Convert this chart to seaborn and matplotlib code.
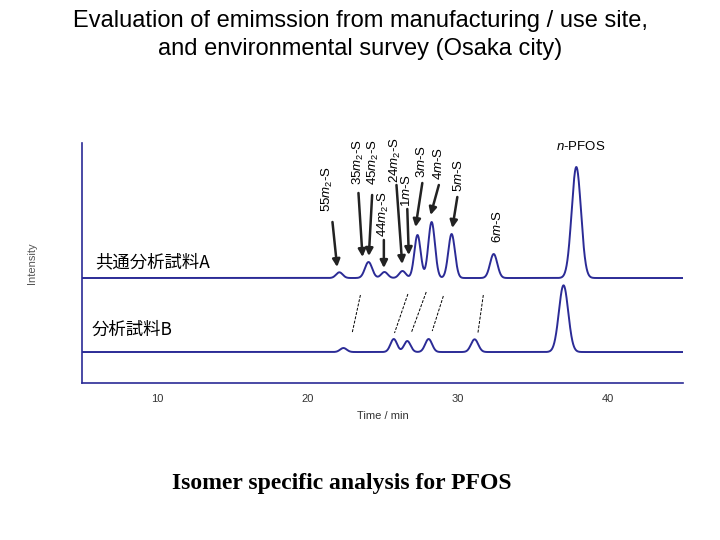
import numpy as np
import pandas as pd
import matplotlib
matplotlib.use("Agg")
import matplotlib.pyplot as plt
import seaborn as sns

# peak tables (time / min, height, sigma)
peaks_a_time = [22.13, 24.07, 25.13, 26.33, 27.33, 28.27, 29.60, 32.40, 37.90]
peaks_a_height = [5.7, 16, 6, 7, 43, 56, 44, 24, 111]
peaks_a_sigma = [0.22, 0.24, 0.22, 0.22, 0.21, 0.22, 0.22, 0.24, 0.31]
baseline_a = 105

peaks_b_time = [22.40, 25.75, 26.65, 28.07, 31.13, 37.05]
peaks_b_height = [4, 13, 11, 13, 12.7, 66.7]
peaks_b_sigma = [0.22, 0.22, 0.22, 0.23, 0.24, 0.31]
baseline_b = 31

# isomer labels: text, text x/y (bottom), arrow tail, arrow head
iso_labels = [r"55$m_2$-S", r"35$m_2$-S", r"45$m_2$-S", r"44$m_2$-S", r"24$m_2$-S",
              r"1$m$-S", r"3$m$-S", r"4$m$-S", r"5$m$-S", r"6$m$-S"]
iso_text_x = [21.33, 23.40, 24.40, 25.09, 25.87, 26.60, 27.58, 28.75, 30.09, 32.65]
iso_text_y = [171, 198, 198, 146, 200, 176, 205, 203, 191, 140]
arrow_tail = [(21.67, 161), (23.40, 190), (24.31, 188), (25.09, 143), (25.93, 198),
              (26.65, 174), (27.65, 200), (28.75, 198), (29.98, 186)]
arrow_head = [(21.98, 116), (23.67, 126), (24.09, 127), (25.09, 115), (26.31, 119),
              (26.75, 128), (27.20, 156), (28.20, 168), (29.65, 155)]

# dashed correspondence lines between the two traces
link_top = [(23.53, 88), (26.69, 89), (27.91, 91), (29.05, 87), (31.71, 88)]
link_bottom = [(22.98, 50), (25.80, 50), (26.91, 50), (28.31, 52), (31.35, 50)]

x_ticks = [10, 20, 30, 40]

sns.set_style("white")
plt.rcParams["font.family"] = ["Liberation Sans", "DejaVu Sans"]
plt.rcParams["text.color"] = "black"
plt.rcParams["mathtext.fontset"] = "custom"
plt.rcParams["mathtext.rm"] = "Liberation Sans"
plt.rcParams["mathtext.it"] = "Liberation Sans:italic"

navy = "#2b2b96"


def trace(t, times, heights, sigmas, base):
    y = np.full_like(t, float(base))
    for mu, h, s in zip(times, heights, sigmas):
        y += h * np.exp(-0.5 * ((t - mu) / s) ** 2)
    return y


t = np.linspace(5, 45, 3000)
df = pd.concat([
    pd.DataFrame({"time": t, "intensity": trace(t, peaks_a_time, peaks_a_height, peaks_a_sigma, baseline_a), "sample": "A"}),
    pd.DataFrame({"time": t, "intensity": trace(t, peaks_b_time, peaks_b_height, peaks_b_sigma, baseline_b), "sample": "B"}),
])

fig = plt.figure(figsize=(7.2, 5.4), dpi=100)
ax = fig.add_axes([0.1139, 0.2907, 0.8347, 0.4445])

sns.lineplot(data=df, x="time", y="intensity", units="sample", estimator=None,
             color=navy, lw=1.4, ax=ax)

ax.set_xlim(5, 45)
ax.set_ylim(0, 240)
ax.set_xticks(x_ticks)
ax.set_yticks([])
ax.tick_params(axis="x", direction="in", length=5, width=1, color=navy,
               labelsize=8, labelcolor="#333333", pad=8)
for side in ["top", "right"]:
    ax.spines[side].set_visible(False)
for side in ["left", "bottom"]:
    ax.spines[side].set_color(navy)
    ax.spines[side].set_linewidth(1.2)

ax.set_xlabel("Time / min", fontsize=8, color="#333333", labelpad=5)
ax.set_ylabel("Intensity", fontsize=8, color="#555555")
ax.yaxis.set_label_coords(-0.075, 0.5)

# isomer labels and arrows
for lab, x, y in zip(iso_labels, iso_text_x, iso_text_y):
    ax.text(x, y, lab, rotation=90, ha="center", va="bottom", fontsize=9.5)
for tail, head in zip(arrow_tail, arrow_head):
    ax.annotate("", xy=head, xytext=tail,
                arrowprops=dict(arrowstyle="-|>", color="#222222", lw=1.8,
                                mutation_scale=11, shrinkA=0, shrinkB=0))
ax.text(38.2, 236, r"$n$-PFOS", ha="center", va="center", fontsize=9.5)

for top, bot in zip(link_top, link_bottom):
    ax.plot([top[0], bot[0]], [top[1], bot[1]], color="black", lw=0.7,
            linestyle=(0, (3, 1.5)))

jp = ["Noto Sans CJK JP", "DejaVu Sans"]
ax.text(5.87, 121, "共通分析試料A", fontsize=12.5, ha="left", va="center", family=jp)
ax.text(5.67, 53, "分析試料B", fontsize=12.5, ha="left", va="center", family=jp)

fig.text(0.5, 0.982, "Evaluation of emimssion from manufacturing / use site,\nand environmental survey (Osaka city)",
         ha="center", va="top", fontsize=17, linespacing=1.38)
fig.text(0.474, 0.105, "Isomer specific analysis for PFOS", ha="center", va="center",
         fontsize=17, fontweight="bold", family=["Liberation Serif", "DejaVu Serif"])

fig.savefig("out.png", dpi=100)
